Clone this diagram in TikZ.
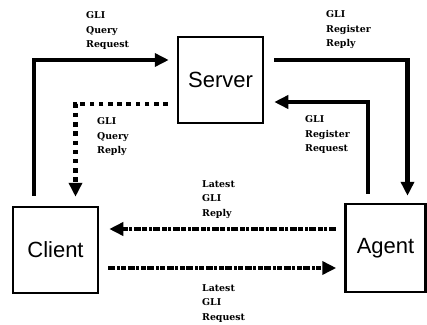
\documentclass[tikz,border=0pt]{standalone}
\usepackage{fontspec}
\newfontfamily\boxfont{Liberation Sans}
\newfontfamily\lblfont{DejaVu Serif}
\usetikzlibrary{arrows.meta}
\begin{document}
\begin{tikzpicture}[x=1pt,y=-1pt,
  entity/.style={draw, line width=2.5pt, minimum width=85pt, minimum height=86pt,
    inner sep=0pt, font=\boxfont\fontsize{22}{26}\selectfont},
  lbl/.style={anchor=north west, inner sep=0pt, align=left,
    font=\lblfont\bfseries\fontsize{9.4}{14.5}\selectfont},
  tip/.style={-{Triangle[length=14pt,width=13pt]}},
  solidflow/.style={line width=4.5pt},
  dotflow/.style={line width=4.5pt, dash pattern=on 4.5pt off 4.7pt},
  dashflow/.style={line width=4.5pt, dash pattern=on 7pt off 1.5pt on 3pt off 1.5pt on 5pt off 1.5pt}
]
\useasboundingbox (0,0) rectangle (427,324);
\node[entity] (server) at (220.5,80) {Server};
\node[entity] (client) at (55.5,250) {Client};
\node[entity, minimum width=80pt, minimum height=88pt] (agent) at (385.5,248) {Agent};

% GLI Query Request
\draw[solidflow, tip] ([xshift=-21.5pt,yshift=10pt]client.north) |- ([xshift=-8pt,yshift=20pt]server.west);
% GLI Query Reply
\draw[dotflow, tip] ([xshift=-9pt,yshift=-24pt]server.west) -| ([xshift=20pt,yshift=9pt]client.north);
% GLI Register Reply
\draw[solidflow, tip] ([xshift=10pt,yshift=20pt]server.east) -| ([xshift=22pt,yshift=7pt]agent.north);
% GLI Register Request
\draw[solidflow, tip] ([xshift=-17.5pt,yshift=9pt]agent.north) |- ([xshift=10pt,yshift=-22pt]server.east);
% Latest GLI Reply
\draw[dashflow, tip] ([xshift=-8.5pt,yshift=19pt]agent.west) -- ([xshift=10pt,yshift=21pt]client.east);
% Latest GLI Request
\draw[dashflow, tip] ([xshift=9pt,yshift=-18pt]client.east) -- ([xshift=-8pt,yshift=-20pt]agent.west);

\node[lbl] (l1) at (86,11.7) {GLI\\Query\\Request};
\node[lbl] (l2) at (97,117.5) {GLI\\Query\\Reply};
\node[lbl] (l3) at (326,10.5) {GLI\\Register\\Reply};
\node[lbl] (l4) at (305,115.5) {GLI\\Register\\Request};
\node[lbl] (l5) at (202,180) {Latest\\GLI\\Reply};
\node[lbl] (l6) at (202,284) {Latest\\GLI\\Request};
\end{tikzpicture}
\end{document}
